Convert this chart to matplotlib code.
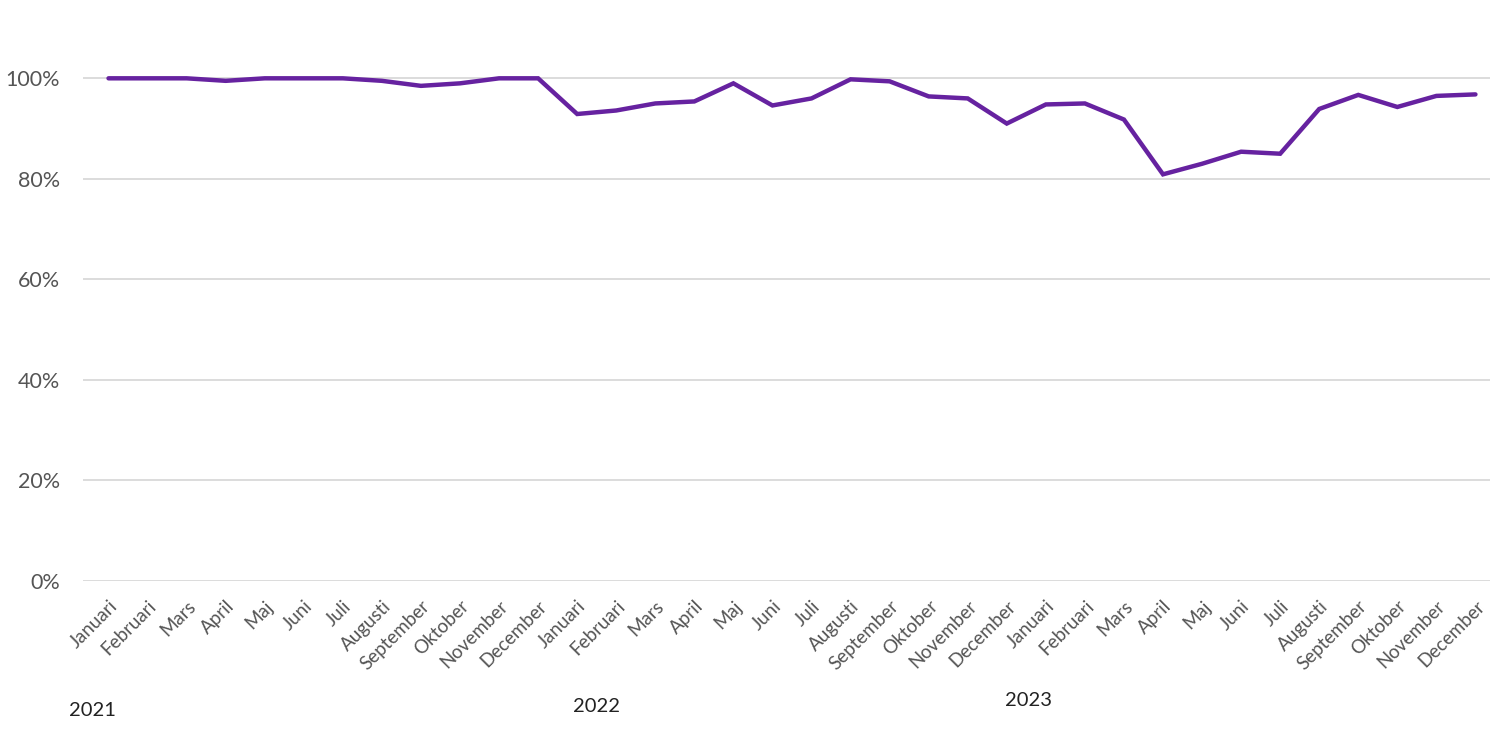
import matplotlib.pyplot as plt
import numpy as np

# --- data ---
months = ["Januari", "Februari", "Mars", "April", "Maj", "Juni", "Juli",
          "Augusti", "September", "Oktober", "November", "December"]
years = ["2021", "2022", "2023"]
values = [
    # 2021
    100.0, 100.0, 100.0, 99.5, 100.0, 100.0, 100.0, 99.5, 98.5, 99.0, 100.0, 100.0,
    # 2022
    92.9, 93.6, 95.0, 95.4, 99.0, 94.6, 96.0, 99.8, 99.4, 96.4, 96.0, 91.0,
    # 2023
    94.8, 95.0, 91.8, 80.9, 83.0, 85.4, 85.0, 93.9, 96.7, 94.3, 96.5, 96.8,
]
yticks = [0, 20, 40, 60, 80, 100]

plt.rcParams['font.family'] = ['Lato', 'DejaVu Sans']

fig = plt.figure(figsize=(15, 7.38), dpi=100)
ax = fig.add_axes([0.055, 0.2127, 0.938, 0.7493])

x = np.arange(len(values))
ax.plot(x, values, color='#6622a0', linewidth=3.2, solid_joinstyle='miter',
        solid_capstyle='round', zorder=3)

ax.set_ylim(0, 110)
ax.set_xlim(-0.666, len(values) - 1 + 0.36)
ax.set_yticks(yticks)
ax.set_yticklabels([f"{v}%" for v in yticks], fontsize=15.5, color='#555555')
ax.grid(axis='y', color='#d9d9d9', linewidth=1.3)
ax.set_axisbelow(True)

ax.set_xticks(x)
ax.set_xticklabels(months * len(years), rotation=45, ha='right',
                   rotation_mode='anchor', fontsize=13.5, color='#555555')
ax.tick_params(axis='both', length=0)
ax.tick_params(axis='x', pad=12)
ax.tick_params(axis='y', pad=16)

for s in ax.spines.values():
    s.set_visible(False)

# year labels under the month labels
year_pos = [(92, 710), (596, 707), (1028, 701)]
for yr, (px, py) in zip(years, year_pos):
    fig.text(px / 1500, 1 - py / 738, yr, ha='center', va='center',
             fontsize=14.5, color='#222222')

fig.savefig("out.png", dpi=100)
